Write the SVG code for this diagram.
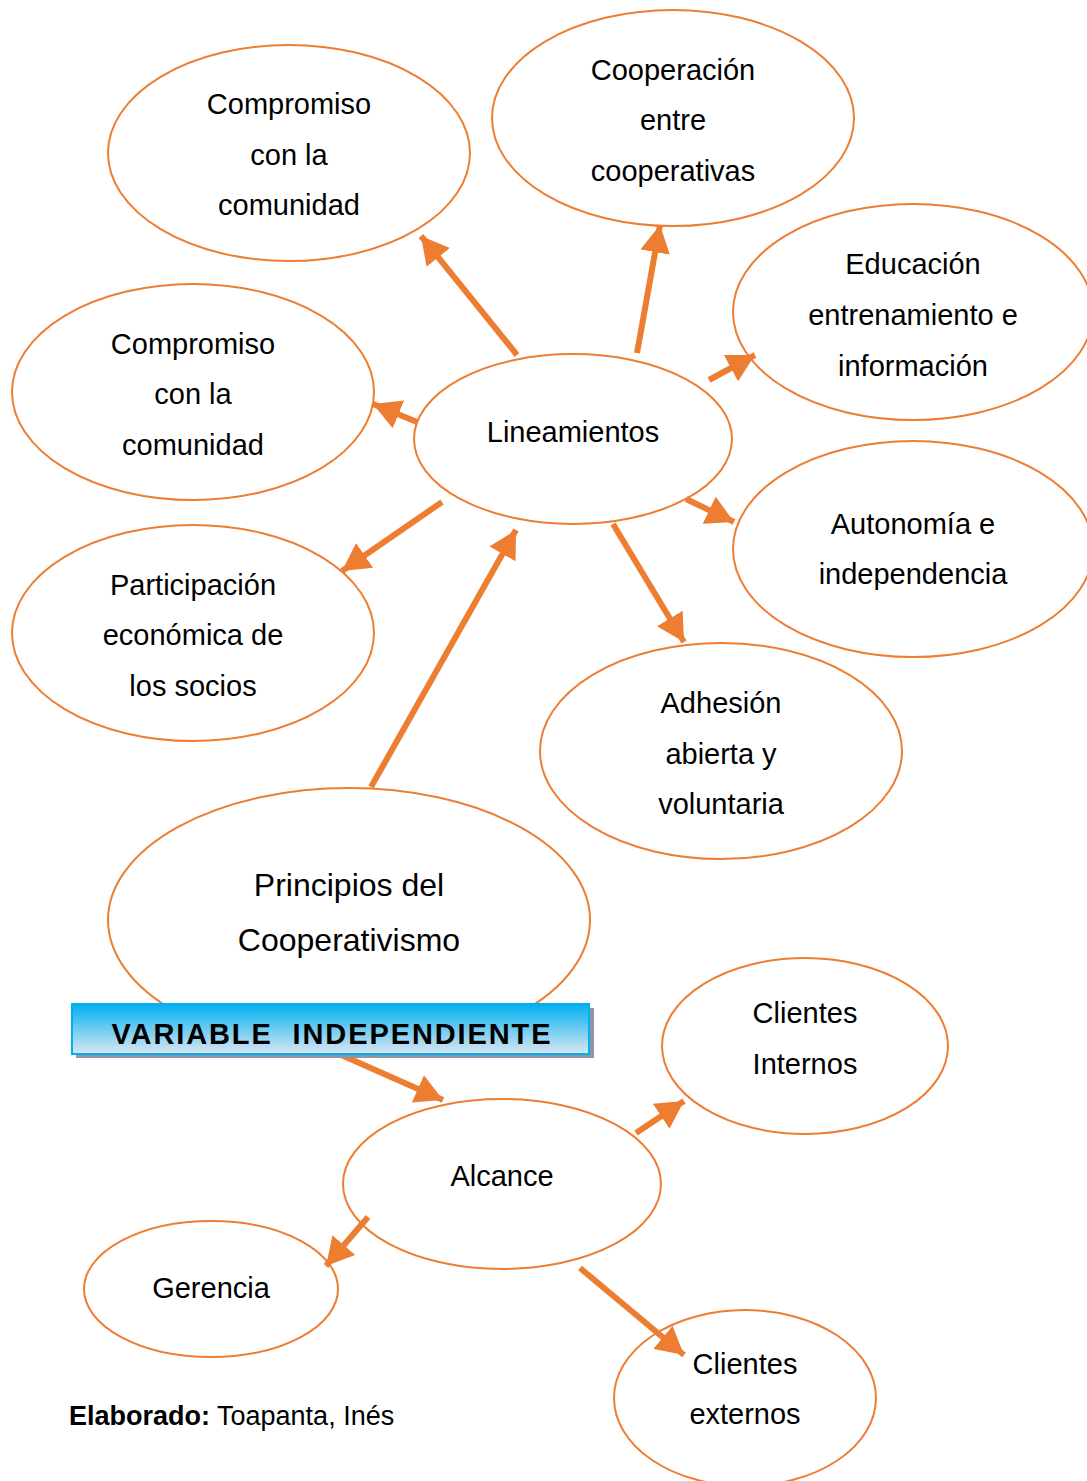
<svg xmlns="http://www.w3.org/2000/svg" width="1087" height="1481" viewBox="0 0 1087 1481">
<style>
.n{fill:#fff;stroke:#ED7D31;stroke-width:2}
.t{font-family:"Liberation Sans",Arial,sans-serif;font-size:29px;fill:#000;text-anchor:middle}
.big{font-size:32px}
.c line{stroke:#ED7D31;stroke-width:6;marker-end:url(#ah)}
</style>
<defs>
<marker id="ah" markerUnits="userSpaceOnUse" markerWidth="30" markerHeight="30" refX="22" refY="12" orient="auto" viewBox="0 0 24 24">
<path d="M0,0 L22,12 L0,24 Z" fill="#ED7D31"/>
</marker>
<linearGradient id="bg" x1="0" y1="0" x2="0" y2="1">
<stop offset="0" stop-color="#00B0F0"/>
<stop offset="1" stop-color="#DCE6F2"/>
</linearGradient>
</defs>
<rect width="1087" height="1481" fill="#fff"/>

<g id="n-compromiso1"><ellipse class="n" cx="289" cy="153" rx="181" ry="108"/>
<text class="t" x="289" y="114">Compromiso</text><text class="t" x="289" y="165">con la</text><text class="t" x="289" y="215">comunidad</text></g>
<g id="n-cooperacion"><ellipse class="n" cx="673" cy="118" rx="181" ry="108"/>
<text class="t" x="673" y="80">Cooperación</text><text class="t" x="673" y="130">entre</text><text class="t" x="673" y="181">cooperativas</text></g>
<g id="n-educacion"><ellipse class="n" cx="913" cy="312" rx="180" ry="108"/>
<text class="t" x="913" y="274">Educación</text><text class="t" x="913" y="325">entrenamiento e</text><text class="t" x="913" y="376">información</text></g>
<g id="n-compromiso2"><ellipse class="n" cx="193" cy="392" rx="181" ry="108"/>
<text class="t" x="193" y="354">Compromiso</text><text class="t" x="193" y="404">con la</text><text class="t" x="193" y="455">comunidad</text></g>
<g id="n-lineamientos"><ellipse class="n" cx="573" cy="439" rx="159" ry="85"/>
<text class="t" x="573" y="442">Lineamientos</text></g>
<g id="n-autonomia"><ellipse class="n" cx="913" cy="549" rx="180" ry="108"/>
<text class="t" x="913" y="534">Autonomía e</text><text class="t" x="913" y="584">independencia</text></g>
<g id="n-participacion"><ellipse class="n" cx="193" cy="633" rx="181" ry="108"/>
<text class="t" x="193" y="595">Participación</text><text class="t" x="193" y="645">económica de</text><text class="t" x="193" y="696">los socios</text></g>
<g id="n-adhesion"><ellipse class="n" cx="721" cy="751" rx="181" ry="108"/>
<text class="t" x="721" y="713">Adhesión</text><text class="t" x="721" y="764">abierta y</text><text class="t" x="721" y="814">voluntaria</text></g>
<g id="n-principios"><ellipse class="n" cx="349" cy="920" rx="241" ry="132"/>
<text class="t big" x="349" y="896">Principios del</text><text class="t big" x="349" y="951">Cooperativismo</text></g>
<g id="n-internos"><ellipse class="n" cx="805" cy="1046" rx="143" ry="88"/>
<text class="t" x="805" y="1023">Clientes</text><text class="t" x="805" y="1074">Internos</text></g>
<g id="n-alcance"><ellipse class="n" cx="502" cy="1184" rx="159" ry="85"/>
<text class="t" x="502" y="1186">Alcance</text></g>
<g id="n-gerencia"><ellipse class="n" cx="211" cy="1289" rx="127" ry="68"/>
<text class="t" x="211" y="1298">Gerencia</text></g>
<g id="n-externos"><ellipse class="n" cx="745" cy="1398" rx="131" ry="88"/>
<text class="t" x="745" y="1374">Clientes</text><text class="t" x="745" y="1424">externos</text></g>

<g id="connectors" class="c">
<line x1="517" y1="355" x2="421" y2="236"/>
<line x1="637" y1="353" x2="660" y2="225"/>
<line x1="709" y1="380" x2="755" y2="355"/>
<line x1="417" y1="422" x2="373" y2="404"/>
<line x1="442" y1="502" x2="342" y2="571"/>
<line x1="371" y1="787" x2="516" y2="530"/>
<line x1="686" y1="499" x2="734" y2="522"/>
<line x1="613" y1="524" x2="684" y2="642"/>
<line x1="330" y1="1050" x2="443" y2="1100"/>
<line x1="636" y1="1133" x2="684" y2="1101"/>
<line x1="368" y1="1217" x2="326" y2="1266"/>
<line x1="580" y1="1268" x2="684" y2="1355"/>
</g>

<g id="n-variable">
<rect x="76" y="1008" width="518" height="50" fill="#8C96A6"/>
<rect x="72" y="1004" width="517" height="50" fill="url(#bg)" stroke="#00B0F0" stroke-width="2"/>
<text x="331" y="1044" font-family="'Liberation Sans',Arial,sans-serif" font-size="29" font-weight="bold" text-anchor="middle" textLength="439" lengthAdjust="spacing" xml:space="preserve">VARIABLE  INDEPENDIENTE</text>
</g>

<text x="69" y="1425" font-family="'Liberation Sans',Arial,sans-serif" font-size="27"><tspan font-weight="bold">Elaborado:</tspan> Toapanta, Inés</text>
</svg>
